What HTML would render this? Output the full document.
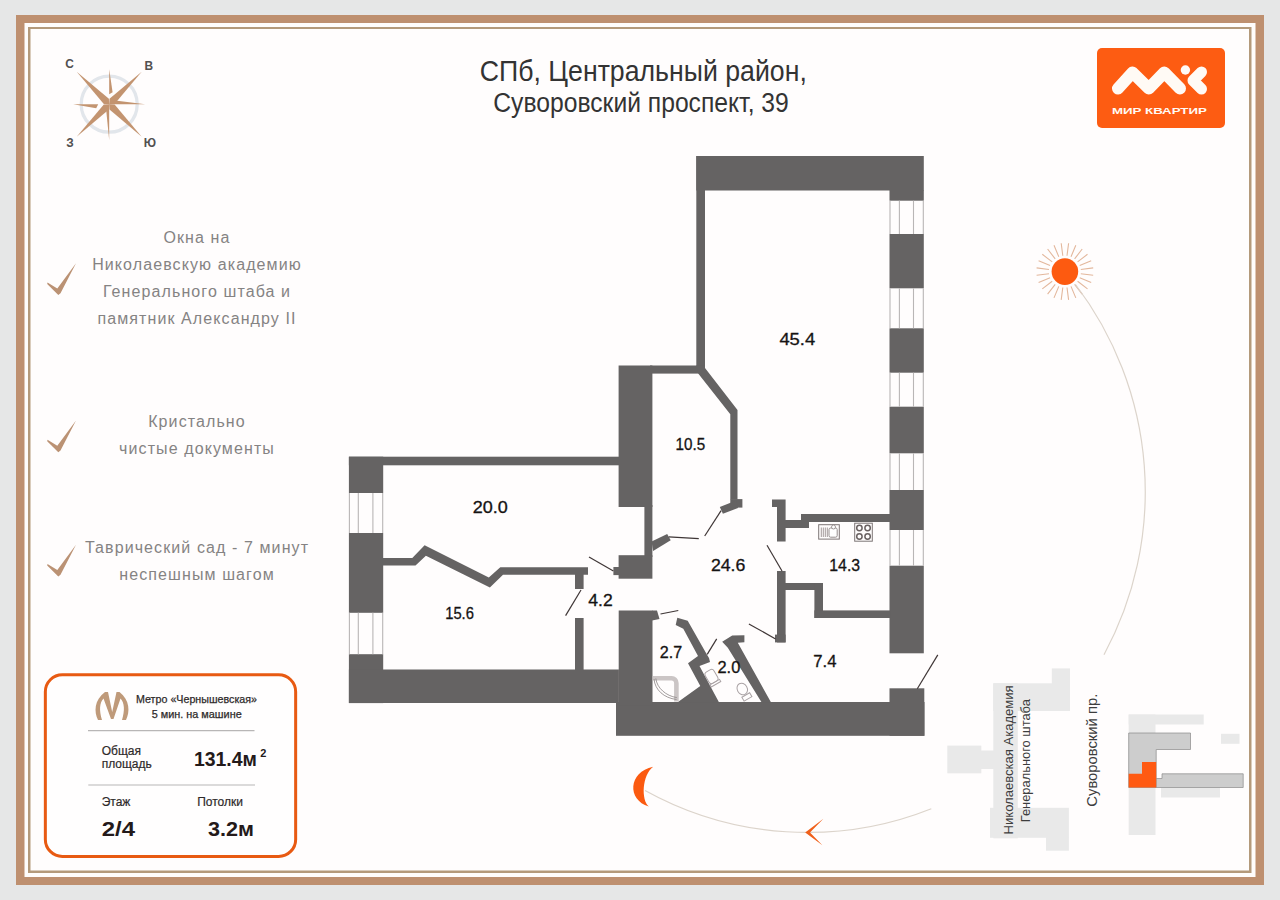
<!DOCTYPE html>
<html><head><meta charset="utf-8">
<style>
html,body{margin:0;padding:0;width:1280px;height:900px;overflow:hidden;background:#e6e7e7;}
svg{position:absolute;left:0;top:0;display:block;}
text{font-family:"Liberation Sans",sans-serif;}
</style></head>
<body>
<svg width="1280" height="900" viewBox="0 0 1280 900">
<!-- frame -->
<rect x="16" y="15" width="1248" height="870" fill="#be9070"/>
<rect x="24.5" y="23" width="1231" height="854" fill="#fffdfc"/>
<rect x="28" y="27" width="1223.5" height="846" fill="#b49a7b"/>
<rect x="30.5" y="29" width="1218.5" height="841.5" fill="#fffdfd"/>

<!-- TITLE -->
<text x="479.8" y="80.9" font-size="29" fill="#333" textLength="327" lengthAdjust="spacingAndGlyphs">СПб, Центральный район,</text>
<text x="493.3" y="112.3" font-size="26.8" fill="#333" textLength="295.5" lengthAdjust="spacingAndGlyphs">Суворовский проспект, 39</text>

<!-- LOGO -->
<g id="logo">
<rect x="1097" y="48" width="128" height="80" rx="5" fill="#fd5c12"/>
<polyline points="1118,88.5 1132.5,72.5 1148.8,88.5 1164.3,72.5 1180,88.5" fill="none" stroke="#fffaf5" stroke-width="12" stroke-linecap="round" stroke-linejoin="round"/>
<circle cx="1185.4" cy="70" r="4.7" fill="#fffaf5"/>
<polyline points="1201.5,72 1193,80.5 1201.5,89" fill="none" stroke="#fffaf5" stroke-width="11" stroke-linecap="round" stroke-linejoin="round"/>
<text x="1111.9" y="113.9" font-size="9.4" font-weight="700" fill="#fffaf5" textLength="95" lengthAdjust="spacingAndGlyphs">МИР КВАРТИР</text>
</g>
<!-- COMPASS -->
<circle cx="109.2" cy="104.2" r="28" fill="none" stroke="#e2e6eb" stroke-width="3.3"/>
<g fill="#c39470">
<polygon points="109.2,104.2 108.9,98.8 76.7,71.7 103.8,103.9"/>
<polygon points="109.2,104.2 114.6,103.9 141.7,71.7 109.5,98.8"/>
<polygon points="109.2,104.2 109.5,109.6 141.7,136.7 114.6,104.5"/>
<polygon points="109.2,104.2 103.8,104.5 76.7,136.7 108.9,109.6"/>
<polygon points="109.2,94.2 112.6,92.2 109.2,69.2"/>
<polygon points="109.2,104.2 106.2,110.2 109.2,140.2"/>
<polygon points="98.2,104.2 96.2,108.2 73.2,104.2"/>
<polygon points="109.2,104.2 115.2,100.4 145.2,104.2"/>
</g>
<g fill="#525050" font-size="11.9" font-weight="700" text-anchor="middle">
<text x="69.6" y="68.1">С</text>
<text x="148.9" y="70.4">В</text>
<text x="69.9" y="147.4">З</text>
<text x="150" y="147.4">Ю</text>
</g>

<!-- CHECKMARKS -->
<g fill="#bb9274">
<polygon points="47.5,282.5 57.3,288.6 76.0,263.3 60.5,293.3 58.3,295.0 47.2,284.0"/>
<polygon points="47.5,439.7 57.3,445.8 76.0,420.5 60.5,450.5 58.3,452.2 47.2,441.2"/>
<polygon points="47.5,563.9 57.3,570.0 76.0,544.7 60.5,574.7 58.3,576.4 47.2,565.4"/>
</g>

<!-- INFO BOX -->
<rect x="45.35" y="674.8" width="250.3" height="181.6" rx="17" fill="#fffefe" stroke="#e85a12" stroke-width="3"/>
<path d="M98,720 C94,712 94,700 105,692 L108,692 L112.2,712 L116.5,692 L119.5,692 C130,700 130,712 126,720 L122,720 C125,710 124.5,703 120.5,698.5 L113.5,719 L111,719 L103.5,698.5 C99.5,703 99,710 102,720 Z" fill="#bf9a7a"/>
<g fill="#2e2a2a" font-size="10.6" stroke="#2e2a2a" stroke-width="0.25">
<text x="136" y="702.8" textLength="121" lengthAdjust="spacingAndGlyphs">Метро «Чернышевская»</text>
<text x="151.7" y="718.3" textLength="90" lengthAdjust="spacingAndGlyphs">5 мин. на машине</text>
</g>
<path d="M88 730.6H254.5M88.3 785H255" stroke="#b8b6b6" stroke-width="1.1"/>
<g fill="#2e2a2a" font-size="12" stroke="#2e2a2a" stroke-width="0.2">
<text x="101.7" y="755">Общая</text>
<text x="101.7" y="767.7">площадь</text>
<text x="101.7" y="806">Этаж</text>
<text x="197.2" y="806">Потолки</text>
</g>
<g fill="#241a1a" font-weight="700" font-size="20">
<text x="193.9" y="766" textLength="63" lengthAdjust="spacingAndGlyphs">131.4м</text>
<text x="260.3" y="757" font-size="11">2</text>
<text x="101.7" y="836" font-size="21" textLength="33.3" lengthAdjust="spacingAndGlyphs">2/4</text>
<text x="207.9" y="836" font-size="21" textLength="46" lengthAdjust="spacingAndGlyphs">3.2м</text>
</g>

<!-- SUN / ARC -->
<path d="M1080.8 273.7L1093.2 275.3M1079.7 277.7L1091.2 282.5M1077.6 281.3L1087.5 288.9M1074.6 284.3L1082.2 294.2M1071.0 286.4L1075.8 297.9M1067.0 287.5L1068.6 299.9M1062.8 287.5L1061.2 299.9M1058.8 286.4L1054.0 297.9M1055.2 284.3L1047.6 294.2M1052.2 281.3L1042.3 288.9M1050.1 277.7L1038.6 282.5M1049.0 273.7L1036.6 275.3M1049.0 269.5L1036.6 267.9M1050.1 265.5L1038.6 260.7M1052.2 261.9L1042.3 254.3M1055.2 258.9L1047.6 249.0M1058.8 256.8L1054.0 245.3M1062.8 255.7L1061.2 243.3M1067.0 255.7L1068.6 243.3M1071.0 256.8L1075.8 245.3M1074.6 258.9L1082.2 249.0M1077.6 261.9L1087.5 254.3M1079.7 265.5L1091.2 260.7M1080.8 269.5L1093.2 267.9" stroke="#e3b79c" stroke-width="1.1"/>
<circle cx="1064.9" cy="271.6" r="13.3" fill="#fd5a10"/>

<path d="M1075.5 284.5 A342.6 342.6 0 0 1 1104 654.7" fill="none" stroke="#dcd4cb" stroke-width="1.2"/>
<path d="M645 790.4 A335.0 335.0 0 0 0 931.3 808.7" fill="none" stroke="#dcd4cb" stroke-width="1.2"/>
<!-- moon -->
<path d="M653.2,766.8 C628,772 627,800 648.8,806.6 C641,800 642,775 653.2,766.8 Z" fill="#fb5a10"/>
<!-- arrow -->
<path d="M823.4,818.8 L805.2,832.4 L822.4,845.2 L810,832.4 Z" fill="#f0601a"/>

<!-- SITE PLAN -->
<g fill="#e9e9e9">
<rect x="993.3" y="683.3" width="76.7" height="27.7"/>
<rect x="1051.8" y="668.4" width="18.2" height="16"/>
<rect x="993.3" y="683.3" width="24.5" height="155"/>
<rect x="990" y="807.8" width="78.9" height="30"/>
<rect x="1046" y="837" width="22.9" height="13.7"/>
<rect x="947.3" y="745.6" width="34" height="27.7"/><rect x="980" y="750.5" width="14" height="18.5"/>
<rect x="1128.7" y="714.5" width="75" height="10"/>
<rect x="1128.7" y="714.5" width="26.8" height="120.5"/>
<rect x="1221" y="733.8" width="18.5" height="10"/>
<rect x="1161" y="787.5" width="59" height="10"/>
</g>
<g fill="#cdcdcd" stroke="#8a8a8a" stroke-width="0.7">
<path d="M1128.7 733H1190.5V749.5H1156.2V787.5H1128.7Z"/>
<path d="M1156.2 778.5H1162V773.8H1243.2V787.5H1156.2Z"/>
</g>
<path d="M1128.7 773.8H1142V762H1156.2V787.5H1128.7Z" fill="#ff5a12"/>
<g fill="#3d3d3d" font-size="13">
<text transform="translate(1012.6 834.4) rotate(-90)" textLength="149" lengthAdjust="spacingAndGlyphs">Николаевская Академия</text>
<text transform="translate(1030 822.2) rotate(-90)" textLength="123" lengthAdjust="spacingAndGlyphs">Генерального штаба</text>
<text transform="translate(1097 806.7) rotate(-90)" font-size="14.5" textLength="113" lengthAdjust="spacingAndGlyphs">Суворовский пр.</text>
</g>


<!-- LEFT TEXTS -->
<g fill="#858383" font-size="16" text-anchor="middle" letter-spacing="1.1">
<text x="197" y="243">Окна на</text>
<text x="197" y="270">Николаевскую академию</text>
<text x="197" y="297">Генерального штаба и</text>
<text x="197" y="324">памятник Александру II</text>
<text x="197" y="427">Кристально</text>
<text x="197" y="453.5">чистые документы</text>
<text x="197" y="552.5">Таврический сад - 7 минут</text>
<text x="197" y="579.5">неспешным шагом</text>
</g>

<!-- FLOOR PLAN -->

<g id="plan" fill="#656363">
<!-- big room top & left walls -->
<rect x="696.3" y="156" width="227.5" height="34.5"/>
<rect x="696.3" y="156" width="8.7" height="215"/>
<!-- right exterior wall solid parts -->
<rect x="889.5" y="190" width="34.3" height="10.7"/>
<rect x="889.5" y="234" width="34.3" height="54.3"/>
<rect x="889.5" y="328.3" width="34.3" height="44.4"/>
<rect x="889.5" y="406.7" width="34.3" height="46.6"/>
<rect x="889.5" y="490" width="34.3" height="40"/>
<rect x="889.5" y="565.7" width="34.3" height="87.6"/>
<rect x="889.5" y="688.3" width="34.8" height="47.5"/>
<!-- bottom wall -->
<rect x="616" y="702" width="308.5" height="33.8"/>
<!-- middle block column -->
<rect x="618.6" y="365.5" width="33.8" height="141.5"/>
<rect x="644.4" y="505" width="8" height="52"/>
<rect x="618.6" y="555.2" width="33.8" height="23.5"/>
<rect x="613.4" y="567" width="6" height="8.1"/>
<rect x="618.7" y="610.5" width="33.8" height="95"/>
<!-- left wing -->
<rect x="348.9" y="456.7" width="271" height="8.6"/>
<rect x="348.9" y="456.7" width="34.3" height="36.3"/>
<rect x="348.9" y="533" width="34.3" height="79.8"/>
<rect x="348.9" y="654.2" width="34.3" height="48.9"/>
<rect x="348.9" y="669.5" width="270" height="33.5"/>
<!-- 20/15.6 partition -->
<polygon points="382.7,557.9 412.3,557.9 424.6,545.3 488.8,577.6 500.3,567.2 588,567.2 588,574.8 503,574.8 489.9,587.4 425.9,555.7 415.5,565.5 382.7,565.5"/>
<rect x="575" y="570" width="8.6" height="19"/>
<rect x="575" y="618" width="8.6" height="53"/>
<!-- 10.5 room -->
<rect x="650" y="365.5" width="54" height="8.1"/>
<polygon points="696.3,365.5 705,365.5 705,368 737.5,410 737.5,499.5 730.3,499.5 730.3,414.2 698.2,373.6"/>
<rect x="730.3" y="499.1" width="12.1" height="8.5"/>
<polygon points="719.8,507.1 736.2,500.5 738,508 722.9,513.8"/>
<polygon points="651.6,541.5 667.2,534.1 670.7,540.3 653.1,550.9"/>
<!-- kitchen walls -->
<polygon points="801,514 890,514 890,522 809,522 809,528 785.6,528 785.6,541.6 777,541.6 777,507 772,507 772,499.6 785.6,499.6 785.6,520 801,520"/>
<rect x="777" y="571" width="8.6" height="71.4"/>
<rect x="775" y="634.6" width="10.6" height="7.8"/>
<rect x="785" y="583" width="38" height="7"/>
<rect x="814.4" y="583" width="8.6" height="35"/>
<rect x="814.4" y="610.4" width="76" height="7.6"/>
<!-- 4.2 / 2.7 -->
<polygon points="652,610.5 657,610.5 659.5,619 652,620.5"/>
<polygon points="677.3,617.7 687.7,620.7 707,654.7 709,658 710,662 699.5,666 719.1,702.5 677.3,702.5 700.3,686 688,663.3 698,656 683.3,628.7 675.7,625"/>
<!-- T wall -->
<polygon points="722.2,641.7 732.2,635.6 744.4,635.3 744.4,642.2 737.8,642.8 771.1,702.5 761.7,702.5 727.8,647.8"/>
</g>

<!-- FIXTURES -->
<g fill="none">
<rect x="818.7" y="524.7" width="20.6" height="14.4" stroke="#7d7575" stroke-width="1"/>
<path d="M821.3 527.5V537M823.3 527.5V537M825.3 527.5V537M827.3 527.5V537" stroke="#8a8282" stroke-width="0.8"/>
<rect x="829" y="528" width="8.2" height="9.2" rx="1.6" stroke="#8a8282" stroke-width="0.9" fill="#fff"/>
<circle cx="833.5" cy="527" r="2" stroke="#8a8282" stroke-width="0.8" fill="#fff"/>
<rect x="854.7" y="523.2" width="17.6" height="18" stroke="#7d7575" stroke-width="1"/>
<g stroke="#6a6262" stroke-width="1.5">
<circle cx="859.4" cy="528" r="2.7"/><circle cx="867.6" cy="528" r="2.7"/>
<circle cx="859.4" cy="536.5" r="2.7"/><circle cx="867.6" cy="536.5" r="2.7"/>
</g>
<path d="M652.8 678.3H671.5A4.8 4.8 0 0 1 676.4 683.2V701.5" stroke="#cbc5c5" stroke-width="4.6"/>
<path d="M654 679C655 690 664 698 676.5 699.5M655.8 678.5C657 688 666 696 676.8 697.6" stroke="#8a8484" stroke-width="0.8"/>
<g stroke="#aaa3a5" stroke-width="1" transform="rotate(-30 711.5 676.5)">
<rect x="706.5" y="670" width="10" height="13" rx="3"/>
<rect x="706" y="683" width="11" height="2.5"/>
</g>
<g stroke="#aaa3a5" stroke-width="1" transform="rotate(-30 744 692)">
<ellipse cx="744" cy="688.5" rx="5" ry="6"/>
<rect x="739.5" y="695.5" width="9" height="4.5"/>
</g>
</g>
<!-- windows -->
<g stroke="#b9b6b6" stroke-width="1.1" fill="none">
<path d="M890 200.7V234M899.4 200.7V234M913.5 200.7V234M923.3 200.7V234"/>
<path d="M890 288.3V328.3M899.4 288.3V328.3M913.5 288.3V328.3M923.3 288.3V328.3"/>
<path d="M890 372.7V406.7M899.4 372.7V406.7M913.5 372.7V406.7M923.3 372.7V406.7"/>
<path d="M890 453.3V490M899.4 453.3V490M913.5 453.3V490M923.3 453.3V490"/>
<path d="M890 530V565.7M899.4 530V565.7M913.5 530V565.7M923.3 530V565.7"/>
<path d="M349.4 493V533M358.3 493V533M372.9 493V533M382.7 493V533"/>
<path d="M349.4 612.8V654.2M358.3 612.8V654.2M372.9 612.8V654.2M382.7 612.8V654.2"/>
</g>
<!-- door swing lines -->
<g stroke="#3f3636" stroke-width="1.2" fill="none">
<path d="M589 557L613.4 571"/>
<path d="M581 590L565.6 615.6"/>
<path d="M668.7 536.8L698.8 538.7"/>
<path d="M721.1 510.7L704.7 536"/>
<path d="M767 545.3L782 571"/>
<path d="M748.9 623.9L775.6 638.9"/>
<path d="M660.5 614L678.3 610.5"/>
<path d="M707.2 654.4L716.7 638.9"/>
<path d="M917.3 688.7L937.8 654.9"/>
</g>
<!-- room labels -->
<g fill="#151313" stroke="#151313" stroke-width="0.3" font-size="16.5">
<text x="779.4" y="344.7" textLength="35.8" lengthAdjust="spacingAndGlyphs">45.4</text>
<text x="675.5" y="450.1" textLength="29.6" lengthAdjust="spacingAndGlyphs">10.5</text>
<text x="472.7" y="513.4" textLength="35.0" lengthAdjust="spacingAndGlyphs">20.0</text>
<text x="445.2" y="618.7" textLength="28.7" lengthAdjust="spacingAndGlyphs">15.6</text>
<text x="588.3" y="606.0" textLength="24.4" lengthAdjust="spacingAndGlyphs">4.2</text>
<text x="710.9" y="571.0" textLength="34.4" lengthAdjust="spacingAndGlyphs">24.6</text>
<text x="829.3" y="571.0" textLength="30.8" lengthAdjust="spacingAndGlyphs">14.3</text>
<text x="813.3" y="667.3" textLength="23.2" lengthAdjust="spacingAndGlyphs">7.4</text>
<text x="659.8" y="657.8" textLength="22.4" lengthAdjust="spacingAndGlyphs">2.7</text>
<text x="717.5" y="673.3" textLength="22.8" lengthAdjust="spacingAndGlyphs">2.0</text>
</g>


</svg>
</body></html>
